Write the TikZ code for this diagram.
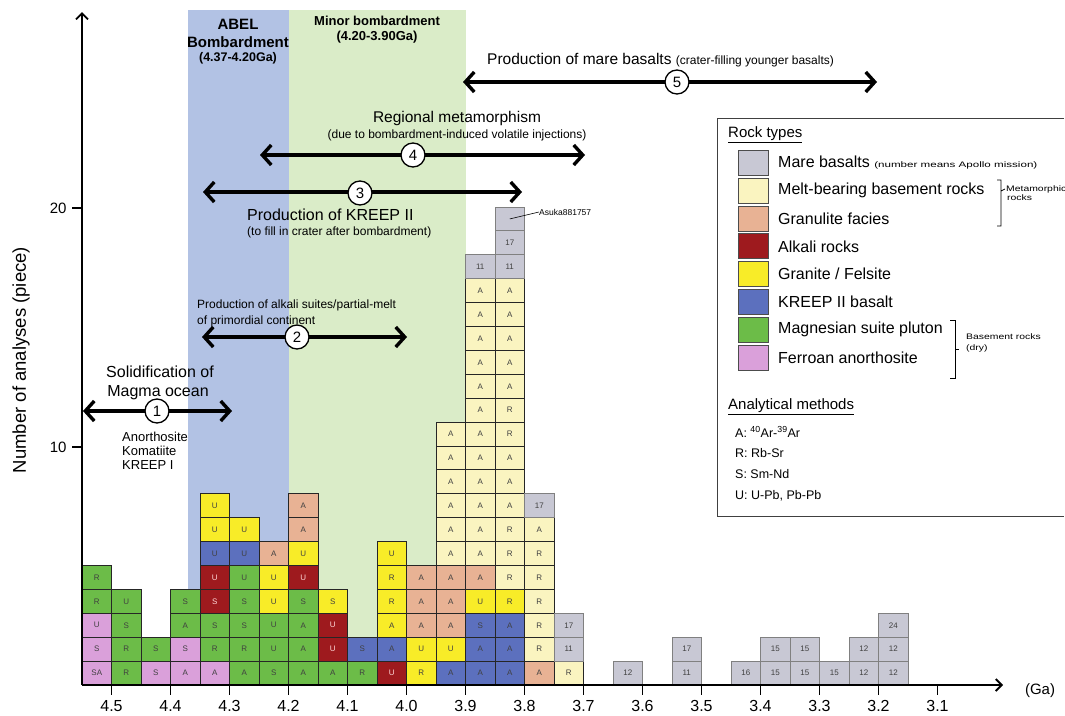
\documentclass[tikz,border=0pt]{standalone}
\usepackage{fontspec}
\setmainfont{Liberation Sans}
\usepackage{graphicx}
\usetikzlibrary{arrows.meta}
\definecolor{cMare}{RGB}{200,200,212}
\definecolor{cMelt}{RGB}{250,244,192}
\definecolor{cGran}{RGB}{232,178,148}
\definecolor{cAlk}{RGB}{158,26,30}
\definecolor{cGrf}{RGB}{248,236,40}
\definecolor{cKreep}{RGB}{92,112,190}
\definecolor{cMgs}{RGB}{108,188,72}
\definecolor{cFan}{RGB}{218,160,218}
\definecolor{bandBlue}{RGB}{178,194,228}
\definecolor{bandGreen}{RGB}{218,236,200}
\newcommand\fz[1]{\fontsize{#1}{#1}\selectfont}
\newcommand\wide[2]{\scalebox{#1}[1]{#2}}
\newcommand\stackcol[2]{\foreach \s/\t [count=\r from 0] in {#2}{\node[cell,\s] (c#1-\r) at ({82+29.5*(#1+0.5)},{685-23.9*(\r+0.5)}) {\t};}}
\tikzset{
  cell/.style={draw=black!85,line width=1pt,minimum width=29.5pt,minimum height=23.9pt,inner sep=0pt,font=\fz{8},text=black!75},
  tMa/.style={fill=cMare,draw=black!50},
  tMb/.style={fill=cMelt},
  tGl/.style={fill=cGran},
  tAlk/.style={fill=cAlk,text=pink!60!white},
  tGr/.style={fill=cGrf},
  tKr/.style={fill=cKreep},
  tMg/.style={fill=cMgs},
  tFa/.style={fill=cFan},
  swatch/.style={draw=black!70,line width=1pt,minimum width=30pt,minimum height=25pt,inner sep=0pt},
  axisline/.style={line width=1.8pt,arrows={-Straight Barb[length=6pt,width=12pt]}},
  bigarrow/.style={line width=3.4pt,arrows={Straight Barb[length=9pt,width=20pt]-Straight Barb[length=9pt,width=20pt]}},
  numc/.style={circle,draw,line width=1.3pt,fill=white,minimum size=24pt,inner sep=0pt,font=\fz{15}},
  lgtext/.style={anchor=west,font=\fz{16},inner sep=0pt},
  note/.style={font=\fz{12},inner sep=0pt},
  band/.style={font=\bfseries\fz{15},inner sep=0pt,align=center},
}
\begin{document}
\begin{tikzpicture}[x=1pt,y=-1pt]
\useasboundingbox (0,0) rectangle (1065,715);
% bands
\fill[bandBlue] (188,10) rectangle (288.5,685);
\fill[bandGreen] (288.5,10) rectangle (465.5,685);
\node[band] (abel1) at (238,24) {ABEL};
\node[band] (abel2) at (238,42) {Bombardment};
\node[band,font=\bfseries\fz{12.5}] (abel3) at (238,58) {(4.37-4.20Ga)};
\node[band,font=\bfseries\fz{13}] (minor1) at (377,21) {Minor bombardment};
\node[band,font=\bfseries\fz{13}] (minor2) at (377,37) {(4.20-3.90Ga)};
% stacked analyses
\stackcol{0}{tFa/SA,tFa/S,tFa/U,tMg/R,tMg/R}
\stackcol{1}{tMg/R,tMg/R,tMg/S,tMg/U}
\stackcol{2}{tFa/S,tMg/S}
\stackcol{3}{tFa/A,tFa/S,tMg/A,tMg/S}
\stackcol{4}{tFa/A,tMg/R,tMg/S,tAlk/S,tAlk/U,tKr/U,tGr/U,tGr/U}
\stackcol{5}{tMg/A,tMg/R,tMg/S,tMg/S,tMg/U,tKr/U,tGr/U}
\stackcol{6}{tMg/S,tMg/U,tMg/U,tGr/U,tGr/U,tGl/A}
\stackcol{7}{tMg/A,tMg/A,tMg/A,tMg/S,tAlk/U,tGr/U,tGl/A,tGl/A}
\stackcol{8}{tMg/A,tAlk/U,tAlk/U,tGr/S}
\stackcol{9}{tMg/R,tKr/S}
\stackcol{10}{tAlk/U,tKr/A,tGr/A,tGr/R,tGr/R,tGr/U}
\stackcol{11}{tGr/R,tGr/U,tGl/A,tGl/A,tGl/A}
\stackcol{12}{tKr/A,tGr/U,tGl/A,tGl/A,tGl/A,tMb/A,tMb/A,tMb/A,tMb/A,tMb/A,tMb/A}
\stackcol{13}{tKr/A,tKr/A,tKr/S,tGr/U,tGl/A,tMb/A,tMb/A,tMb/A,tMb/A,tMb/A,tMb/A,tMb/A,tMb/A,tMb/A,tMb/A,tMb/A,tMb/A,tMa/11}
\stackcol{14}{tKr/A,tKr/A,tKr/A,tGr/R,tMb/R,tMb/R,tMb/R,tMb/A,tMb/A,tMb/A,tMb/R,tMb/R,tMb/A,tMb/A,tMb/A,tMb/A,tMb/A,tMa/11,tMa/17,tMa/{}}
\stackcol{15}{tGl/A,tMb/R,tMb/R,tMb/R,tMb/R,tMb/R,tMb/A,tMa/17}
\stackcol{16}{tMb/R,tMa/11,tMa/17}
\stackcol{18}{tMa/12}
\stackcol{20}{tMa/11,tMa/17}
\stackcol{22}{tMa/16}
\stackcol{23}{tMa/15,tMa/15}
\stackcol{24}{tMa/15,tMa/15}
\stackcol{25}{tMa/15}
\stackcol{26}{tMa/12,tMa/12}
\stackcol{27}{tMa/12,tMa/12,tMa/24}
\node[anchor=west,font=\fz{8.5},inner sep=0pt] (ask) at (539,212) {Asuka881757};
\draw[line width=0.6pt] (c14-19.center) -- (ask.west);
% axes
\coordinate (O) at (82,685);
\coordinate (Ytop) at (82,12);
\coordinate (Xend) at (1003,685);
\draw[axisline] (O) -- (Ytop);
\draw[axisline] (O) -- (Xend);
\draw[line width=1.5pt] (72,208) -- (82,208) (72,447) -- (82,447);
\node[anchor=east,font=\fz{15}] (y20) at (70,208) {20};
\node[anchor=east,font=\fz{15}] (y10) at (70,447) {10};
\foreach \lab [count=\i from 0] in {4.5,4.4,4.3,4.2,4.1,4.0,3.9,3.8,3.7,3.6,3.5,3.4,3.3,3.2,3.1}{
  \draw[line width=1.5pt] ({82+29.5*(2*\i+1)},685) -- ({82+29.5*(2*\i+1)},695);
  \node[font=\fz{16}] (tk\i) at ({82+29.5*(2*\i+1)},706) {\lab};
}
\node[font=\fz{15}] (ga) at (1040,691) {(Ga)};
\node[rotate=90,font=\fz{18.5}] (ylab) at (21,360) {Number of analyses (piece)};
% event arrows
\coordinate (e1l) at (83,411); \coordinate (e1r) at (232,411);
\draw[bigarrow] (e1l) -- (e1r);
\node[numc] (n1) at (157,411) {1};
\node[font=\fz{16}] (t1a) at (160,372) {Solidification of};
\node[font=\fz{16}] (t1b) at (158,393) {Magma ocean};
\node[anchor=west,font=\fz{13},align=left,inner sep=0pt] (t1c) at (122,451) {Anorthosite\\[1pt]Komatiite\\[1pt]KREEP I};
\coordinate (e2l) at (202,337); \coordinate (e2r) at (407,337);
\draw[bigarrow] (e2l) -- (e2r);
\node[numc] (n2) at (297,337) {2};
\node[note,anchor=west] (t2a) at (197,305) {Production of alkali suites/partial-melt};
\node[note,anchor=west] (t2b) at (197,321) {of primordial continent};
\coordinate (e3l) at (203,192); \coordinate (e3r) at (522,192);
\draw[bigarrow] (e3l) -- (e3r);
\node[numc] (n3) at (360,193) {3};
\node[anchor=west,font=\fz{16},inner sep=0pt] (t3a) at (247,215) {Production of KREEP II};
\node[note,anchor=west] (t3b) at (247,232) {(to fill in crater after bombardment)};
\coordinate (e4l) at (260,155); \coordinate (e4r) at (585,155);
\draw[bigarrow] (e4l) -- (e4r);
\node[numc] (n4) at (413,155) {4};
\node[font=\fz{15.5},inner sep=0pt] (t4a) at (457,118) {Regional metamorphism};
\node[note] (t4b) at (457,135) {(due to bombardment-induced volatile injections)};
\coordinate (e5l) at (463,82); \coordinate (e5r) at (877,82);
\draw[bigarrow] (e5l) -- (e5r);
\node[numc] (n5) at (677,82) {5};
\node[anchor=west,font=\fz{15.5},inner sep=0pt] (t5) at (487,60) {Production of mare basalts {\fz{12}(crater-filling younger basalts)}};
% legend
\draw[line width=0.9pt,black!75] (1064,118) -- (717,118) -- (717,516) -- (1064,516);
\node[anchor=west,font=\fz{15},inner sep=0pt] (lgh1) at (728,135) {\underline{Rock types}};
\foreach \c/\txt [count=\k from 0] in {cMare/{Mare basalts {\wide{1.45}{\fz{8}(number means Apollo mission)}}},cMelt/{Melt-bearing basement rocks},cGran/{Granulite facies},cAlk/{Alkali rocks},cGrf/{Granite / Felsite},cKreep/{KREEP II basalt},cMgs/{Magnesian suite pluton},cFan/{Ferroan anorthosite}}{
  \node[swatch,fill=\c] (sw\k) at (753,{163+27.8*\k}) {};
  \node[lgtext] (lt\k) at (778,{163+27.8*\k}) {\txt};
}
\draw[line width=0.8pt] (997,180) -- (1001,180) -- (1001,226) -- (997,226) (1001,191) -- (1005,189);
\node[anchor=west,inner sep=0pt] (meta1) at (1006,189) {\wide{1.3}{\fz{8}Metamorphic}};
\node[anchor=west,inner sep=0pt] (meta2) at (1007,198) {\wide{1.3}{\fz{8}rocks}};
\draw[line width=0.8pt] (950,320) -- (955,320) -- (955,378) -- (950,378) (955,349) -- (959,349);
\node[anchor=west,inner sep=0pt] (base1) at (966,337) {\wide{1.3}{\fz{8}Basement rocks}};
\node[anchor=west,inner sep=0pt] (base2) at (966,348) {\wide{1.3}{\fz{8}(dry)}};
\node[anchor=west,font=\fz{15},inner sep=0pt] (lgh2) at (728,407) {\underline{Analytical methods}};
\node[anchor=west,font=\fz{12.5},inner sep=0pt] (am1) at (735,432) {A: \textsuperscript{40}Ar-\textsuperscript{39}Ar};
\node[anchor=west,font=\fz{12.5},inner sep=0pt] (am2) at (735,453) {R: Rb-Sr};
\node[anchor=west,font=\fz{12.5},inner sep=0pt] (am3) at (735,474) {S: Sm-Nd};
\node[anchor=west,font=\fz{12.5},inner sep=0pt] (am4) at (735,496) {U: U-Pb, Pb-Pb};
\end{tikzpicture}
\end{document}
